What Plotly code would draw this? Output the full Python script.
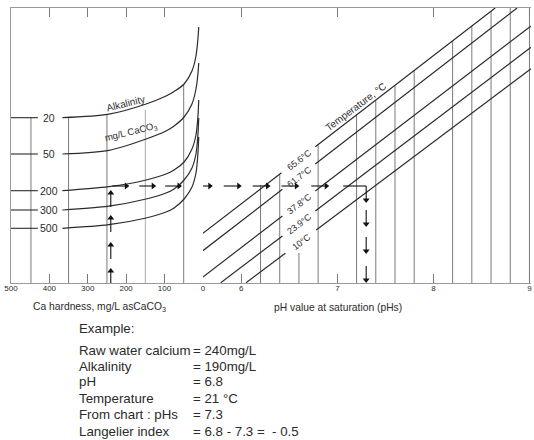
import plotly.graph_objects as go

hardness_ticks = [500, 400, 300, 200, 100, 0]
ph_ticks = [6, 7, 8, 9]

# alkalinity curves (x = Ca hardness mg/L, y = nomograph height units)
alk_names = ["20", "50", "200", "300", "500"]
alk_level_y = [165.3, 129.0, 92.3, 73.0, 54.7]
curve_hardness = [366, 245, 148, 96, 75, 49, 28.5, 18, 13.2, 10.8]
alk20_y = [165.3, 168.8, 179, 187, 191.5, 199, 212, 227, 243, 256]
alk50_y = [129.0, 132.7, 144, 152, 157, 166, 179, 194, 208, 220]
alk200_y = [92.3, 96.3, 103, 109, 113, 121, 134, 148, 165, 183]
alk300_y = [73.0, 76.8, 84, 90, 94, 103, 115, 129, 147, 165]
alk500_y = [54.7, 58.3, 65, 71, 75, 84, 96, 110, 128, 146]
alk_stub_end = 430
alk_label_x = 402

# vertical guide lines, hardness panel
left_grid_hardness = [448, 350, 250, 150, 50]
left_grid_top = [165.3, 166, 168, 173, 199]

# vertical guide lines, pH panel
right_grid_ph = [6.2, 6.4, 6.6, 6.8, 7.2, 7.4, 7.6, 7.8, 8.2, 8.4, 8.6, 8.8, 9.0]
right_grid_top = [98, 108, 30, 138, 168, 183, 198, 213, 242, 257, 272, 275, 275]

# temperature lines (pH, height), broken where the label sits
temp_labels = ["65.6°C", "61.7°C", "37.8°C", "23.9°C", "10°C"]
t_start_ph = [5.6, 5.6, 5.6, 5.786, 6.050]
t_start_y = [49.7, 32.3, 6.0, 0.3, 0.3]
t_gap0_ph = [6.418, 6.428, 6.428, 6.428, 6.459]
t_gap0_y = [110.2, 93.7, 66.9, 47.1, 29.8]
t_gap1_ph = [6.770, 6.770, 6.770, 6.770, 6.780]
t_gap1_y = [136.3, 119.0, 92.0, 72.0, 52.9]
t_end_ph = [8.643, 8.871, 9.016, 9.016, 9.016]
t_end_y = [275, 275, 257.1, 235.8, 214.2]
t_label_ph = [6.60, 6.60, 6.60, 6.60, 6.625]
t_label_y = [123.5, 106.5, 79.5, 59.5, 41.5]

# worked example path
example_hardness = 240
example_phs = 7.3
example_y = 97
up_tip_y = [90, 65, 38, 12]
up_tail_y = [76, 51, 24, 0]
left_tip_h = [199.5, 129.5, 62.2]
left_tail_h = [235.8, 165.8, 98.4]
right_tip_ph = [5.672, 5.973, 6.273, 6.573, 6.884]
right_tail_ph = [5.517, 5.817, 6.118, 6.418, 6.728]
final_start_ph = 7.06
down_tip_y = [83, 59, 32, 3]
down_tail_y = [97, 73, 46, 17]

example_rows = ["Raw water calcium", "Alkalinity", "pH", "Temperature",
                "From chart : pHs", "Langelier index"]
example_vals = ["= 240mg/L", "= 190mg/L", "= 6.8", "= 21 °C", "= 7.3",
                "= 6.8 - 7.3 =  - 0.5"]

# ---------------- figure ----------------
INK = "#2b2b2b"
GRID = "#7a7a7a"
FRAME = "#9a9a9a"
FONT = "Liberation Sans, Arial, sans-serif"

fig = go.Figure()


def seg_trace(xs, ys, xaxis, color, width, shape="linear"):
    fig.add_trace(go.Scatter(x=xs, y=ys, mode="lines", xaxis=xaxis, yaxis="y",
                             line=dict(color=color, width=width, shape=shape,
                                       smoothing=0.8 if shape == "spline" else None),
                             hoverinfo="skip", showlegend=False))


def heads(xs, ys, xaxis, symbol):
    fig.add_trace(go.Scatter(x=xs, y=ys, mode="markers", xaxis=xaxis, yaxis="y",
                             marker=dict(symbol=symbol, size=6, color="#111",
                                         line=dict(width=0)),
                             hoverinfo="skip", showlegend=False, cliponaxis=False))


# left vertical guides
for h, top in zip(left_grid_hardness, left_grid_top):
    seg_trace([h, h], [0, top], "x", "#ababab" if h == 150 else GRID, 1)

# alkalinity stubs
xs, ys = [], []
for yv in alk_level_y:
    xs += [500, alk_stub_end, None]
    ys += [yv, yv, None]
seg_trace(xs, ys, "x", INK, 1.1)

# alkalinity curves
for cy in [alk20_y, alk50_y, alk200_y, alk300_y, alk500_y]:
    seg_trace(curve_hardness, cy, "x", INK, 1.2, "spline")

# right vertical guides
for p, top in zip(right_grid_ph, right_grid_top):
    seg_trace([p, p], [0, top], "x2", GRID, 1)

# temperature lines
for i in range(len(temp_labels)):
    seg_trace([t_start_ph[i], t_gap0_ph[i], None, t_gap1_ph[i], t_end_ph[i]],
              [t_start_y[i], t_gap0_y[i], None, t_gap1_y[i], t_end_y[i]],
              "x2", INK, 1.2)

# ---- example path: dashes + arrow heads ----
PATH = "#111"
xs, ys = [], []
for tip, tail in zip(up_tip_y, up_tail_y):
    xs += [example_hardness, example_hardness, None]
    ys += [tail, tip, None]
for tip, tail in zip(left_tip_h, left_tail_h):
    xs += [tail, tip, None]
    ys += [example_y, example_y, None]
seg_trace(xs, ys, "x", PATH, 1.1)
heads([example_hardness] * len(up_tip_y), up_tip_y, "x", "triangle-up")
heads(left_tip_h, [example_y] * len(left_tip_h), "x", "triangle-right")

xs, ys = [], []
for tip, tail in zip(right_tip_ph, right_tail_ph):
    xs += [tail, tip, None]
    ys += [example_y, example_y, None]
xs += [final_start_ph, example_phs, None]
ys += [example_y, example_y, None]
for tip, tail in zip(down_tip_y, down_tail_y):
    xs += [example_phs, example_phs, None]
    ys += [tail, tip, None]
seg_trace(xs, ys, "x2", PATH, 1.1)
heads(right_tip_ph, [example_y] * len(right_tip_ph), "x2", "triangle-right")
heads([example_phs] * len(down_tip_y), down_tip_y, "x2", "triangle-down")

annotations = []

# alkalinity level labels
for name, yv in zip(alk_names, alk_level_y):
    annotations.append(dict(x=alk_label_x, y=yv, xref="x", yref="y", text=name,
                            showarrow=False, bgcolor="white", xanchor="center",
                            yanchor="middle",
                            font=dict(family=FONT, size=10.5, color=INK)))

annotations.append(dict(x=202, y=179.5, xref="x", yref="y", text="Alkalinity",
                        showarrow=False, textangle=-14, xanchor="center",
                        yanchor="middle",
                        font=dict(family=FONT, size=10, color=INK)))
annotations.append(dict(x=188, y=151.5, xref="x", yref="y",
                        text="mg/L CaCO<sub>3</sub>", showarrow=False, textangle=-14,
                        xanchor="center", yanchor="middle",
                        font=dict(family=FONT, size=9.5, color=INK)))

for lab, p, yv in zip(temp_labels, t_label_ph, t_label_y):
    annotations.append(dict(x=p, y=yv, xref="x2", yref="y", text=lab,
                            showarrow=False, textangle=-37, xanchor="center",
                            yanchor="middle",
                            font=dict(family=FONT, size=9, color=INK)))
annotations.append(dict(x=7.194, y=177, xref="x2", yref="y", text="Temperature, °C",
                        showarrow=False, textangle=-37, xanchor="center",
                        yanchor="middle",
                        font=dict(family=FONT, size=10, color=INK)))

# axis titles and example text (paper coordinates)
W, H0 = 523.0, 275.0


def px(xp):
    return (xp - 11) / W


def py(yp):
    return (283 - yp) / H0


annotations.append(dict(x=px(100), y=py(307), xref="paper", yref="paper",
                        text="Ca hardness, mg/L asCaCO<sub>3</sub>", showarrow=False,
                        xanchor="center", yanchor="middle",
                        font=dict(family=FONT, size=10.3, color=INK)))
annotations.append(dict(x=px(339.5), y=py(307), xref="paper", yref="paper",
                        text="pH value at saturation (pHs)", showarrow=False,
                        xanchor="center", yanchor="middle",
                        font=dict(family=FONT, size=10.3, color=INK)))
annotations.append(dict(x=px(77), y=py(328.5), xref="paper", yref="paper",
                        text="Example:", showarrow=False, xanchor="left",
                        yanchor="middle",
                        font=dict(family=FONT, size=13.3, color=INK)))
row_y = [350.5, 366.7, 382, 398.3, 414.7, 431]
for lab, val, yv in zip(example_rows, example_vals, row_y):
    annotations.append(dict(x=px(77), y=py(yv), xref="paper", yref="paper",
                            text=lab, showarrow=False, xanchor="left",
                            yanchor="middle",
                            font=dict(family=FONT, size=13.3, color=INK)))
    annotations.append(dict(x=px(192), y=py(yv), xref="paper", yref="paper",
                            text=val, showarrow=False, xanchor="left",
                            yanchor="middle",
                            font=dict(family=FONT, size=13.3, color=INK)))

split = 193.0 / W
axis_common = dict(showline=True, linecolor=FRAME, linewidth=1, mirror="ticks",
                   ticks="inside", ticklen=9, tickcolor=GRID, tickwidth=1,
                   showgrid=False, zeroline=False, ticklabelstandoff=-3,
                   tickfont=dict(family=FONT, size=8, color=INK))

fig.update_layout(
    width=534, height=440, autosize=False,
    margin=dict(l=11, r=0, t=8, b=157, pad=0),
    paper_bgcolor="white", plot_bgcolor="white",
    showlegend=False,
    xaxis=dict(domain=[0, split], range=[500, 0], tickvals=hardness_ticks,
               anchor="y", **axis_common),
    xaxis2=dict(domain=[split, 1], range=[5.6, 9.016], tickvals=ph_ticks,
                anchor="y", **axis_common),
    yaxis=dict(domain=[0, 1], range=[0, 275], showline=True, linecolor=FRAME,
               showticklabels=False, ticks="", showgrid=False, zeroline=False,
               anchor="x"),
    annotations=annotations,
)

fig.write_html("out.html")
